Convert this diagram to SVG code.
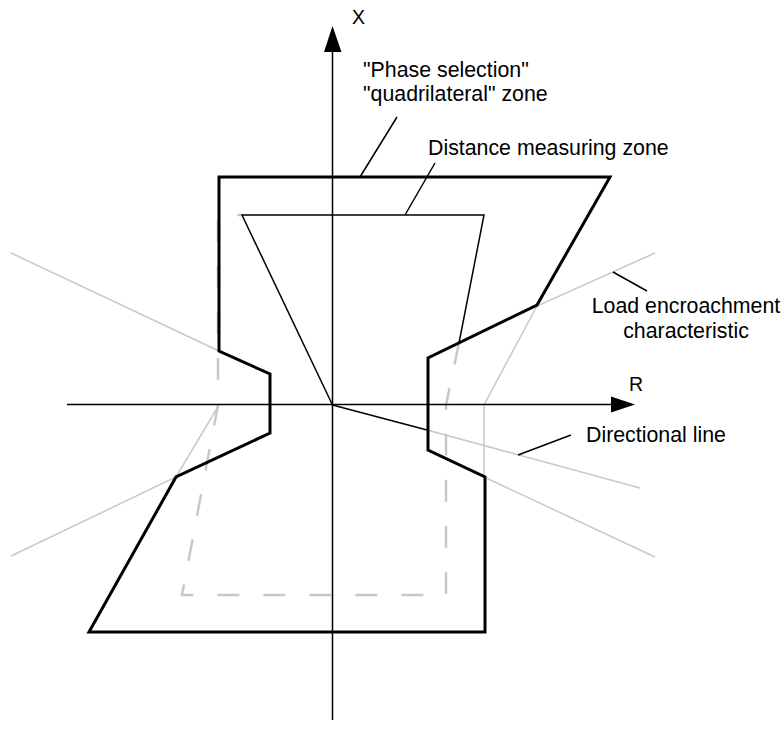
<svg xmlns="http://www.w3.org/2000/svg" width="784" height="745" viewBox="0 0 784 745">
<style>
.txt{font-family:"Liberation Sans",Arial,sans-serif;font-size:21.33px;fill:#000}
.ax{font-family:"Liberation Sans",Arial,sans-serif;font-size:19.5px;fill:#000}
.axis{stroke:#000;stroke-width:1.5;fill:none}
.thick{stroke:#000;stroke-width:3;fill:none;stroke-linejoin:miter}
.thin{stroke:#000;stroke-width:1.5;fill:none}
.light{stroke:#c8c8c8;stroke-width:1.5;fill:none}
.dash{stroke:#c8c8c8;stroke-width:2.5;fill:none;stroke-dasharray:22 24}
.lead{stroke:#000;stroke-width:1.5;fill:none}
</style>
<rect width="784" height="745" fill="#fff"/>
<g id="load-encroachment">
<polyline class="light" points="11,253 219,351"/>
<polyline class="light" points="219,405 176,477 11,556"/>
<polyline class="light" points="655,253 537,306 484,405 484,477 655,557"/>
</g>
<g id="directional-line">
<polyline class="light" points="427,430 640,488"/>
<polyline class="thin" points="332.5,405 427,430"/>
</g>
<g id="distance-zone">
<polyline class="dash" points="459,343 446,405 446,595 182,595 218,405 218,215 242,215"/>
<polyline class="thin" points="332.5,405 242,215 484,215 459,343"/>
</g>
<g id="axes">
<line class="axis" x1="332.5" y1="720" x2="332.5" y2="50"/>
<polygon points="332.5,26 324,52 341.5,52" fill="#000"/>
<line class="axis" x1="67" y1="404.5" x2="613" y2="404.5"/>
<polygon points="635,404.5 611,396.5 611,412.5" fill="#000"/>
<text class="ax" x="352" y="24">X</text>
<text class="ax" x="629" y="391">R</text>
</g>
<g id="phase-selection-zone">
<polygon class="thick" points="219,177 610,177 537,305 428,358 428,450 485,477 485,632 89,632 176,477 270,433 270,374 219,351"/>
</g>
<g id="connectors">
<line class="lead" x1="397" y1="117" x2="360" y2="177"/>
<line class="lead" x1="435" y1="163" x2="405" y2="215"/>
<line class="lead" x1="613" y1="272" x2="647" y2="291"/>
<line class="lead" x1="518" y1="455" x2="571" y2="435"/>
</g>
<g id="labels">
<text class="txt" x="363" y="77">"Phase selection"</text>
<text class="txt" x="363" y="101">"quadrilateral" zone</text>
<text class="txt" x="428" y="155">Distance measuring zone</text>
<text class="txt" x="686" y="313" text-anchor="middle">Load encroachment</text>
<text class="txt" x="686" y="338" text-anchor="middle">characteristic</text>
<text class="txt" x="586" y="442">Directional line</text>
</g>
</svg>
